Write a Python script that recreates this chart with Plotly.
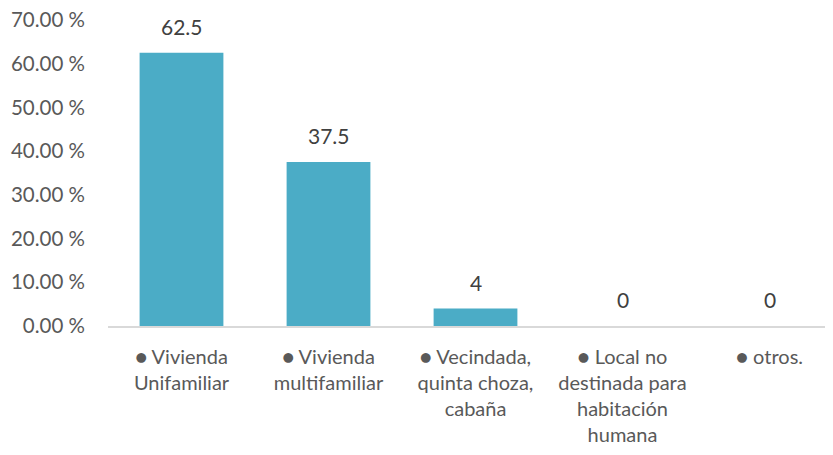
import plotly.graph_objects as go

categories = [
    "● Vivienda<br>Unifamiliar",
    "● Vivienda<br>multifamiliar",
    "● Vecindada,<br>quinta choza,<br>cabaña",
    "● Local no<br>destinada para<br>habitación<br>humana",
    "● otros.",
]
values = [62.5, 37.5, 4, 0, 0]
value_labels = ["62.5", "37.5", "4", "0", "0"]
tick_vals = [0, 10, 20, 30, 40, 50, 60, 70]
tick_text = ["0.00 %", "10.00 %", "20.00 %", "30.00 %", "40.00 %", "50.00 %", "60.00 %", "70.00 %"]

fig = go.Figure(go.Bar(
    x=categories, y=values,
    marker=dict(color="#4BACC6", line=dict(width=0)),
))

for c, v, t in zip(categories, values, value_labels):
    fig.add_annotation(
        x=c, y=v, text=t, showarrow=False, yanchor="bottom", yshift=12,
        font=dict(family="Lato", size=21, color="#404040"),
    )

fig.update_layout(
    width=843, height=455,
    margin=dict(l=100, r=8, t=12, b=137),
    paper_bgcolor="white", plot_bgcolor="white",
    font=dict(family="Lato", size=20, color="#595959"),
    bargap=0.43,
    showlegend=False,
)
fig.update_xaxes(
    showline=True, linecolor="#D9D9D9", linewidth=1.5,
    showgrid=False, ticks="", ticklabelstandoff=12, automargin=False,
    ticklabeloverflow="allow",
    tickfont=dict(size=20, color="#595959"),
)
fig.update_yaxes(
    range=[0, 70], tickvals=tick_vals, ticktext=tick_text,
    showgrid=False, zeroline=False, showline=False,
    ticks="", ticklabelstandoff=22, automargin=False,
    ticklabeloverflow="allow",
    tickfont=dict(size=20.5, color="#595959"),
)

fig.write_html("out.html")
